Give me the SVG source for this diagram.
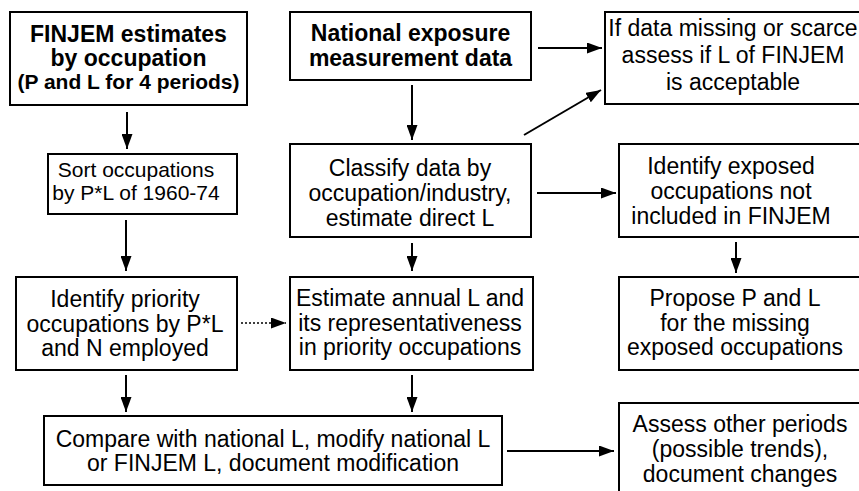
<svg xmlns="http://www.w3.org/2000/svg" width="859" height="491" viewBox="0 0 859 491">
<style>
.box{fill:#fff;stroke:#000;stroke-width:2}
.t{font-family:"Liberation Sans",Arial,sans-serif;font-size:23px;fill:#000;text-anchor:middle}
.s{font-size:21px}
.b{font-weight:bold;font-size:23px}
.b2{font-weight:bold;font-size:21px}
.c{stroke:#000;stroke-width:2;fill:none;marker-end:url(#ah)}
.d{stroke:#000;stroke-width:1.6;fill:none;stroke-dasharray:2 2;marker-end:url(#ah)}
</style>
<defs>
<marker id="ah" markerUnits="userSpaceOnUse" markerWidth="15" markerHeight="11" refX="15" refY="5.5" orient="auto">
<path d="M0,0 L15,5.5 L0,11 z" fill="#000"/>
</marker>
</defs>
<rect width="859" height="491" fill="#fff"/>
<g id="connectors">
<line class="c" x1="127" y1="112" x2="127" y2="149"/>
<line class="c" x1="412" y1="85" x2="412" y2="140"/>
<line class="c" x1="538" y1="48" x2="602" y2="48"/>
<line class="c" x1="524" y1="135" x2="601" y2="90"/>
<line class="c" x1="537" y1="193" x2="616" y2="193"/>
<line class="c" x1="126" y1="220" x2="126" y2="271"/>
<line class="c" x1="412" y1="243" x2="412" y2="271"/>
<line class="c" x1="736" y1="242" x2="736" y2="273"/>
<line class="d" x1="241" y1="323" x2="286" y2="323"/>
<line class="c" x1="126" y1="375" x2="126" y2="412"/>
<line class="c" x1="412" y1="375" x2="412" y2="412"/>
<line class="c" x1="507" y1="451" x2="614" y2="451"/>
</g>
<g id="finjem">
<rect class="box" x="10" y="12" width="237" height="93"/>
<text class="t b" x="128.5" y="42">FINJEM estimates</text>
<text class="t b" x="128.5" y="65.5">by occupation</text>
<text class="t b2" x="128.5" y="89">(P and L for 4 periods)</text>
</g>
<g id="national">
<rect class="box" x="290" y="12" width="241" height="68"/>
<text class="t b" x="410.5" y="41">National exposure</text>
<text class="t b" x="410.5" y="66">measurement data</text>
</g>
<g id="missing">
<rect class="box" x="605" y="12" width="270" height="92"/>
<text class="t" x="733" y="36">If data missing or scarce</text>
<text class="t" x="733" y="63">assess if L of FINJEM</text>
<text class="t" x="733" y="90">is acceptable</text>
</g>
<g id="sort">
<rect class="box" x="48" y="154" width="189" height="60"/>
<text class="t s" x="136" y="177">Sort occupations</text>
<text class="t s" x="136" y="200">by P*L of 1960-74</text>
</g>
<g id="classify">
<rect class="box" x="290" y="144" width="241" height="93"/>
<text class="t" x="410" y="176">Classify data by</text>
<text class="t" x="410" y="201">occupation/industry,</text>
<text class="t" x="410" y="226">estimate direct L</text>
</g>
<g id="exposed">
<rect class="box" x="619" y="144" width="260" height="93"/>
<text class="t" x="731" y="174">Identify exposed</text>
<text class="t" x="731" y="199">occupations not</text>
<text class="t" x="731" y="224">included in FINJEM</text>
</g>
<g id="priority">
<rect class="box" x="16" y="277" width="221" height="93"/>
<text class="t" x="125" y="307">Identify priority</text>
<text class="t" x="125" y="332">occupations by P*L</text>
<text class="t" x="125" y="356">and N employed</text>
</g>
<g id="estimate">
<rect class="box" x="290" y="277" width="243" height="93"/>
<text class="t" x="410" y="306">Estimate annual L and</text>
<text class="t" x="410" y="331">its representativeness</text>
<text class="t" x="410" y="355">in priority occupations</text>
</g>
<g id="propose">
<rect class="box" x="619" y="277" width="260" height="93"/>
<text class="t" x="735" y="306">Propose P and L</text>
<text class="t" x="735" y="331">for the missing</text>
<text class="t" x="735" y="355">exposed occupations</text>
</g>
<g id="compare">
<rect class="box" x="44" y="416" width="458" height="69"/>
<text class="t" x="273" y="447">Compare with national L, modify national L</text>
<text class="t" x="273" y="471">or FINJEM L, document modification</text>
</g>
<g id="assess">
<rect class="box" x="619" y="403" width="260" height="100"/>
<text class="t" x="740" y="432">Assess other periods</text>
<text class="t" x="740" y="457">(possible trends),</text>
<text class="t" x="740" y="482">document changes</text>
</g>
</svg>
